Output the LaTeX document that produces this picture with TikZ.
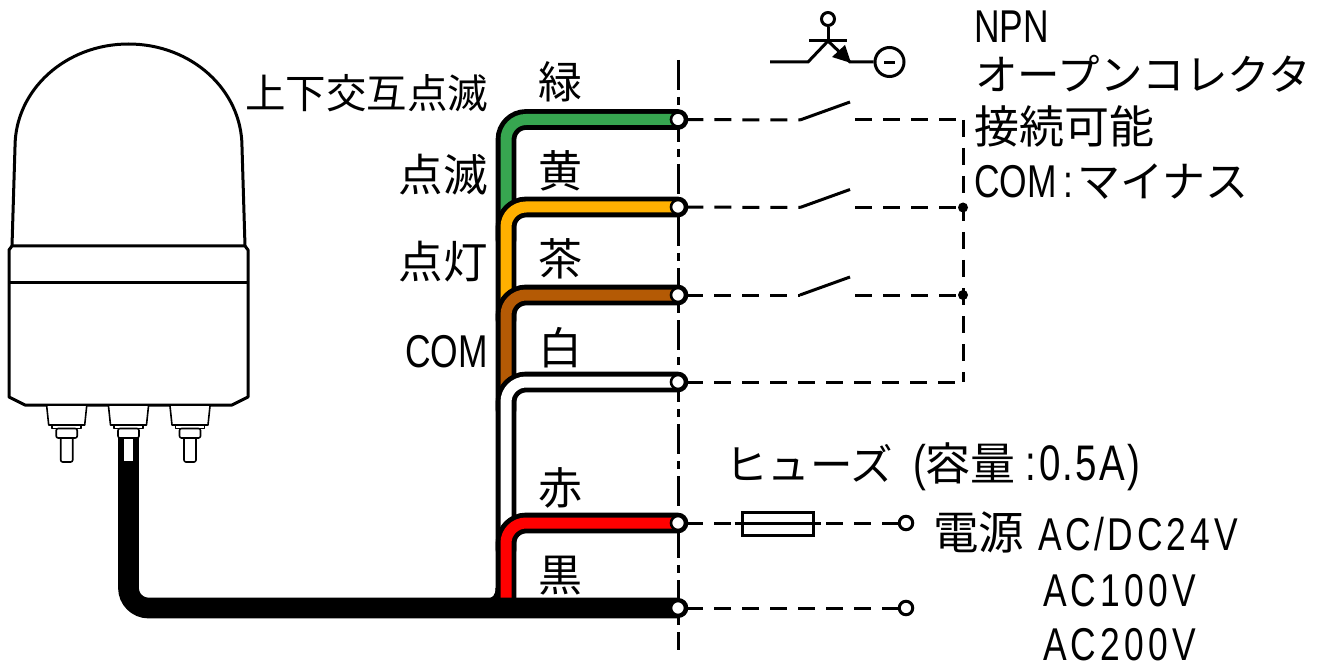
\documentclass[tikz,border=0pt]{standalone}
\usepackage{fontspec}
\setmainfont{Noto Sans CJK JP}
\newfontfamily\latn[FakeStretch=0.77]{Liberation Sans}
\newfontfamily\latw[FakeStretch=0.77,LetterSpace=9]{Liberation Sans}
\newfontfamily\latm[FakeStretch=0.77,LetterSpace=4]{Liberation Sans}
\definecolor{wgreen}{HTML}{37A650}
\definecolor{wyellow}{HTML}{FFB000}
\definecolor{wbrown}{HTML}{B45A05}
\tikzset{
  lab/.style={anchor=base west,inner sep=0pt,font=\fontsize{44}{44}\selectfont},
  labsm/.style={anchor=base west,inner sep=0pt,font=\fontsize{40.5}{41}\selectfont},
  lampline/.style={line width=3pt,line join=round},
  thinline/.style={line width=1.6pt,fill=white,line join=round},
  dashline/.style={line width=3pt,dash pattern=on 17pt off 11pt},
  plain/.style={line width=3pt},
  term/.style={circle,draw,line width=2.6pt,fill=white,minimum size=14pt,inner sep=0pt},
  endterm/.style={circle,draw,line width=3pt,fill=white,minimum size=13.5pt,inner sep=0pt},
  dotnode/.style={circle,fill=black,minimum size=10pt,inner sep=0pt},
  wireout/.style={line width=20.7pt,line cap=round,rounded corners=20pt},
  wirein/.style={line width=11pt,line cap=round,rounded corners=20pt},
}
\newcommand{\wirepath}[3]{%
  \draw[wireout,black] (506,#3) |- (#2);
  \draw[wirein,#1,line cap=butt] (506,#3) |- ([xshift=-2pt]#2);
}
\newcommand{\plug}[1]{%
  \begin{scope}[xshift=#1pt]
    \draw[thinline] (-20,406) -- (-18,425) -- (18,425) -- (20,406);
    \draw[thinline] (-14.5,425) rectangle (14.5,428.5);
    \draw[thinline,rounded corners=2pt] (-6,436) -- (-6,462) -- (6,462) -- (6,436);
    \draw[thinline,rounded corners=2pt] (-10.5,428.5) -- (-10.5,438) -- (10.5,438) -- (10.5,428.5) -- cycle;
  \end{scope}
}
\begin{document}
\begin{tikzpicture}[x=1pt,y=-1pt]
\useasboundingbox (0,0) rectangle (1323,663);
% wire ends
\coordinate (w1) at (678,119.5);
\coordinate (w2) at (678,207);
\coordinate (w3) at (678,295);
\coordinate (w4) at (678,382);
\coordinate (w5) at (678,523);
\coordinate (w6) at (678,608);
\coordinate (lampwire) at (128.5,432);
% centre dash-dot line
\coordinate (ctop) at (678,60);
\coordinate (cbot) at (678,650);
\draw[line width=3pt,dash pattern=on 30pt off 7pt on 8pt off 7pt] (ctop) -- (cbot);
% wires
\wirepath{wgreen}{w1}{240}
\wirepath{wyellow}{w2}{320}
\wirepath{wbrown}{w3}{410}
\wirepath{white}{w4}{550}
\wirepath{red}{w5}{600}
\draw[line width=3pt] (497,588) .. controls (497,596) and (494,600) .. (486,600);
\draw[wireout,black,line cap=butt] (lampwire) |- (w6);
\draw[line width=20.7pt,line cap=round] (660,608) -- (w6);
% lamp
\draw[lampline,fill=white] (12,246) -- (15,147) .. controls (15,90) and (65.5,44) .. (128.5,44) .. controls (191.5,44) and (242,90) .. (242,147) -- (245,246);
\draw[lampline,fill=white] (12,246) -- (245,246) -- (248,250) -- (248,397) -- (232,405) -- (25,405) -- (9,397) -- (9,250) -- cycle;
\draw[lampline] (9,282.5) -- (248,282.5);
\plug{66.7}
\plug{128.5}
\plug{190}
\fill[black] (118,438.5) rectangle (124,470);
\fill[black] (133,438.5) rectangle (139,470);
% terminals
\node[term] (t1) at (w1) {};
\node[term] (t2) at (w2) {};
\node[term] (t3) at (w3) {};
\node[term] (t4) at (w4) {};
\node[term] (t5) at (w5) {};
\node[term] (t6) at (w6) {};
% switches
\foreach \i/\yy in {1/120,2/207.5,3/295}{
  \coordinate (sa\i) at (800,\yy);
  \coordinate (sb\i) at (850,\yy-18);
  \coordinate (sc\i) at (855,\yy);
  \coordinate (bus\i) at (963,\yy);
  \draw[dashline] (t\i) -- (sa\i);
  \draw[plain] (sa\i) -- (sb\i);
  \draw[dashline] (sc\i) -- (bus\i);
}
\coordinate (bus4) at (963,382);
\draw[dashline] (t4) -- (bus4);
\draw[dashline] (bus1) -- (bus4);
\node[dotnode] (d2) at (bus2) {};
\node[dotnode] (d3) at (bus3) {};
% power side
\node[endterm] (e1) at (906,523) {};
\node[endterm] (e2) at (906,608) {};
\draw[dashline] (t5) -- (e1);
\draw[dashline] (t6) -- (e2);
\node[draw,line width=3pt,minimum width=71pt,minimum height=23pt,inner sep=0pt] (fuse) at (777.5,523.5) {};
\draw[plain] ([xshift=-6pt]fuse.west) -- ([xshift=6pt]fuse.east);
% transistor
\coordinate (bl) at (770,62);
\coordinate (bj) at (808,62);
\coordinate (tj) at (828,41);
\coordinate (em) at (850,62);
\node[circle,draw,line width=3pt,minimum size=13pt,inner sep=0pt] (coll) at (828,19) {};
\node[circle,draw,line width=3pt,minimum size=29pt,inner sep=0pt] (neg) at (889.5,62) {};
\draw[line width=3pt] (bl) -- (bj) -- (tj);
\draw[line width=3pt] (809,41) -- (847,41);
\draw[line width=3pt] (coll) -- (tj);
\draw[line width=3pt] (tj) -- (em) -- (neg);
\fill (851,63) -- (832,57) -- (845,45) -- cycle;
\draw[line width=3pt] (884,62.5) -- (895,62.5);
% labels
\node[labsm] (l0) at (245,109) {上下交互点滅};
\node[lab,font=\fontsize{44.5}{45}\selectfont] (l1) at (398.5,192) {点滅};
\node[lab,font=\fontsize{44.5}{45}\selectfont] (l2) at (398.5,279) {点灯};
\node[lab,font=\fontsize{46}{46}\latn] (l3) at (405,367) {COM};
\node[lab] (c1) at (538.5,99) {緑};
\node[lab] (c2) at (538.5,188) {黄};
\node[lab] (c3) at (538.5,276) {茶};
\node[lab] (c4) at (538.5,364) {白};
\node[lab] (c5) at (538.5,504) {赤};
\node[lab] (c6) at (538.5,591) {黒};
\node[lab,font=\fontsize{46}{46}\latn] (r1) at (974,43) {NPN};
\node[lab,font=\fontsize{42.5}{43}\selectfont] (r2) at (975,91) {オープンコレクタ};
\node[lab,font=\fontsize{45}{45}\selectfont] (r3) at (974,144) {接続可能};
\node[lab,font=\fontsize{43}{43}\selectfont] (r4) at (974,198) {{\fontsize{46}{46}\latn COM\hspace{7pt}:}\hspace{4pt}マイナス};
\node[labsm,font=\fontsize{42.5}{43}\selectfont] (f1) at (725,480) {ヒューズ\hspace{20pt}{\fontsize{50}{50}\latn (}{\fontsize{45}{45}\selectfont 容量}\hspace{10pt}{\fontsize{50}{50}\latn :}\hspace{3pt}{\fontsize{50}{50}\latm 0.5A}\hspace{3pt}{\fontsize{50}{50}\latn )}};
\node[lab,font=\fontsize{45.5}{46}\selectfont] (p1) at (933,549) {電源};
\node[lab,font=\fontsize{46}{46}\latw] (p2) at (1038,550) {AC\hspace{3pt}/\hspace{3pt}DC24V};
\node[lab,font=\fontsize{46}{46}\latw] (p3) at (1043,606) {AC100V};
\node[lab,font=\fontsize{46}{46}\latw] (p4) at (1043,660) {AC200V};
\end{tikzpicture}
\end{document}
